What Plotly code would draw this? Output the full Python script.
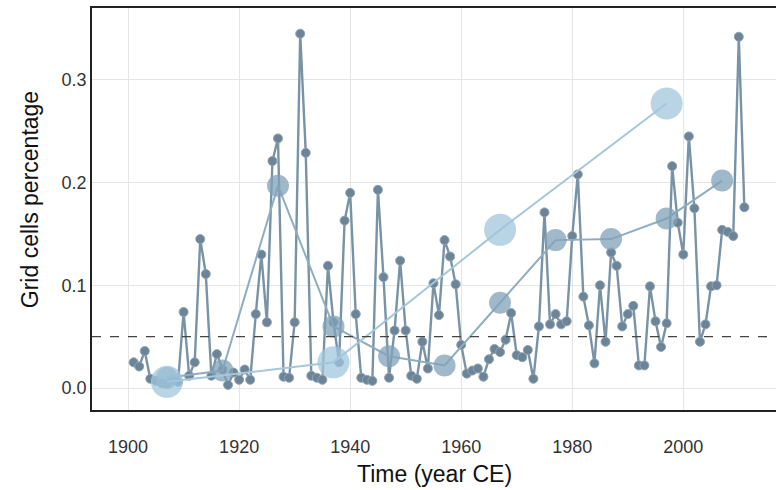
import plotly.graph_objects as go

# Annual series 1901-2011
years = list(range(1901, 2012))
values = [
    0.025, 0.021, 0.036, 0.009, 0.007, 0.005, 0.004, 0.008, 0.006, 0.074,  # 1901-1910
    0.012, 0.025, 0.145, 0.111, 0.012, 0.033, 0.018, 0.003, 0.015, 0.008,  # 1911-1920
    0.018, 0.008, 0.072, 0.130, 0.064, 0.221, 0.243, 0.011, 0.010, 0.064,  # 1921-1930
    0.345, 0.229, 0.012, 0.010, 0.008, 0.119, 0.064, 0.025, 0.163, 0.190,  # 1931-1940
    0.072, 0.010, 0.008, 0.007, 0.193, 0.108, 0.010, 0.056, 0.124, 0.056,  # 1941-1950
    0.012, 0.009, 0.045, 0.019, 0.102, 0.071, 0.144, 0.128, 0.101, 0.042,  # 1951-1960
    0.014, 0.017, 0.019, 0.011, 0.028, 0.038, 0.035, 0.047, 0.073, 0.032,  # 1961-1970
    0.030, 0.037, 0.009, 0.060, 0.171, 0.062, 0.072, 0.062, 0.065, 0.148,  # 1971-1980
    0.208, 0.089, 0.061, 0.024, 0.100, 0.045, 0.132, 0.119, 0.060, 0.072,  # 1981-1990
    0.080, 0.022, 0.022, 0.099, 0.065, 0.040, 0.063, 0.216, 0.161, 0.130,  # 1991-2000
    0.245, 0.175, 0.045, 0.062, 0.099, 0.100, 0.154, 0.152, 0.148, 0.342,  # 2001-2010
    0.176,                                                                 # 2011
]
assert len(years) == len(values)

# Decadal means
dec_years = [1907, 1917, 1927, 1937, 1947, 1957, 1967, 1977, 1987, 1997, 2007]
dec_values = [0.010, 0.017, 0.197, 0.060, 0.031, 0.022, 0.083, 0.144, 0.145, 0.165, 0.202]

# 30-year means
tri_years = [1907, 1937, 1967, 1997]
tri_values = [0.006, 0.025, 0.154, 0.277]

threshold = 0.05

x_ticks = [1900, 1920, 1940, 1960, 1980, 2000]
y_ticks = [0.0, 0.1, 0.2, 0.3]
y_ticklabels = ["0.0", "0.1", "0.2", "0.3"]
x_title = "Time (year CE)"
y_title = "Grid cells percentage"

fig = go.Figure()

fig.add_trace(go.Scatter(
    x=years, y=values, mode="lines+markers",
    line=dict(color="#7893a5", width=2.4),
    marker=dict(symbol="circle", size=9, color="#6c8496",
                line=dict(color="#8ea4b4", width=1)),
    showlegend=False,
))

fig.add_trace(go.Scatter(
    x=dec_years, y=dec_values, mode="lines+markers",
    line=dict(color="#8fadc0", width=2),
    marker=dict(symbol="circle", size=22, color="rgba(128,162,184,0.75)",
                line=dict(width=0)),
    showlegend=False,
))

fig.add_trace(go.Scatter(
    x=tri_years, y=tri_values, mode="lines+markers",
    line=dict(color="#a6c7db", width=2),
    marker=dict(symbol="circle", size=32, color="rgba(160,198,220,0.75)",
                line=dict(width=0)),
    showlegend=False,
))

fig.add_hline(y=threshold, line=dict(color="#444444", width=1.4, dash="dash"))

tick_font = dict(family="Liberation Sans Narrow, Liberation Sans, Arial", size=18, color="#333333")
title_font = dict(family="Liberation Sans, Arial", size=23, color="#111111")

fig.update_layout(
    width=776, height=490,
    margin=dict(l=92, r=0, t=8, b=80),
    paper_bgcolor="white", plot_bgcolor="white",
    xaxis=dict(
        range=[1893.5, 2016.7], tickvals=x_ticks, automargin=False,
        showgrid=True, gridcolor="#e5e5e5", gridwidth=1.2,
        zeroline=False, showline=True, mirror=True,
        linecolor="#222222", linewidth=1.5,
        ticks="", ticklabelstandoff=20, tickfont=tick_font,
    ),
    yaxis=dict(
        range=[-0.0214, 0.370], tickvals=y_ticks, ticktext=y_ticklabels,
        automargin=False,
        showgrid=True, gridcolor="#e5e5e5", gridwidth=1.2,
        zeroline=False, showline=True, mirror=False,
        linecolor="#222222", linewidth=1.5,
        ticks="", ticklabelstandoff=0, tickfont=tick_font,
    ),
    annotations=[
        dict(text=x_title, xref="paper", yref="paper", x=0.5, y=-0.158,
             xanchor="center", yanchor="middle", showarrow=False, font=title_font),
        dict(text=y_title, xref="paper", yref="paper", x=-0.0906, y=0.522,
             xanchor="center", yanchor="middle", showarrow=False, textangle=-90,
             font=title_font),
    ],
)

fig.write_html("out.html")
